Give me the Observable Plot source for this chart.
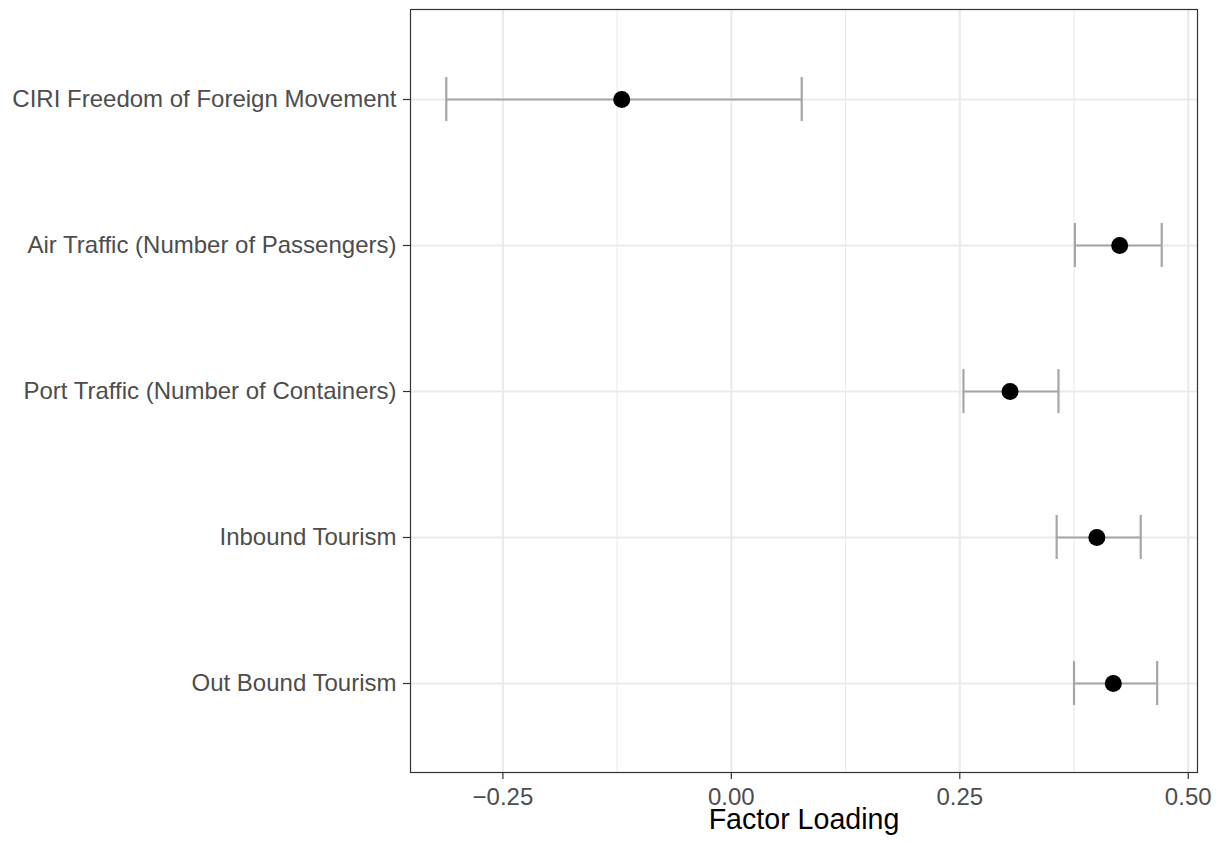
<!DOCTYPE html>
<html>
<head>
<meta charset="utf-8">
<script src="https://cdn.jsdelivr.net/npm/d3@7"></script>
<script src="https://cdn.jsdelivr.net/npm/@observablehq/plot@0.6"></script>
<style>
  html, body { margin: 0; padding: 0; background: #fff; }
  #chart svg { display: block; font-family: "Liberation Sans", Arial, Helvetica, sans-serif; }
</style>
</head>
<body>
<div id="chart"></div>
<script>
const variables = [
  "CIRI Freedom of Foreign Movement",
  "Air Traffic (Number of Passengers)",
  "Port Traffic (Number of Containers)",
  "Inbound Tourism",
  "Out Bound Tourism"
];
const loadings = [-0.120, 0.425, 0.305, 0.400, 0.418];
const lowers   = [-0.312, 0.376, 0.254, 0.356, 0.375];
const uppers   = [ 0.077, 0.471, 0.358, 0.448, 0.466];
const majorTicks = [-0.25, 0, 0.25, 0.5];
const minorTicks = [-0.125, 0.125, 0.375];

const data = variables.map((v, i) => ({name: v, est: loadings[i], lo: lowers[i], hi: uppers[i]}));

const lo = d3.min(lowers), hi = d3.max(uppers), pad = (hi - lo) * 0.05;

const chart = Plot.plot({
  width: 1217,
  height: 843,
  marginLeft: 410,
  marginRight: 20,
  marginTop: 9,
  marginBottom: 71,
  style: {fontFamily: '"Liberation Sans", Arial, Helvetica, sans-serif', background: "#fff"},
  x: {domain: [lo - pad, hi + pad]},
  y: {type: "band", domain: variables, paddingInner: 0.7, paddingOuter: 0.45},
  marks: [
    Plot.ruleX(minorTicks, {stroke: "#ebebeb", strokeWidth: 1.2}),
    Plot.ruleX(majorTicks, {stroke: "#ebebeb", strokeWidth: 2.2}),
    Plot.ruleY(variables, {y: d => d, stroke: "#ebebeb", strokeWidth: 2.2}),
    Plot.ruleY(data, {y: "name", x1: "lo", x2: "hi", stroke: "#a6a6a6", strokeWidth: 2.2}),
    Plot.tickX(data, {x: "lo", y: "name", stroke: "#a6a6a6", strokeWidth: 2.2}),
    Plot.tickX(data, {x: "hi", y: "name", stroke: "#a6a6a6", strokeWidth: 2.2}),
    Plot.dot(data, {x: "est", y: "name", r: 8.5, fill: "black", stroke: "none"}),
    Plot.frame({stroke: "#333333", strokeWidth: 1.2}),
    Plot.axisX(majorTicks, {
      tickSize: 7, tickPadding: 8, fontSize: 24, color: "#4d4d4d", stroke: "#333333",
      tickFormat: d3.format(".2f"), label: null
    }),
    Plot.axisY({
      tickSize: 7, tickPadding: 7, fontSize: 24, color: "#4d4d4d", stroke: "#333333", label: null
    }),
    Plot.text(["Factor Loading"], {frameAnchor: "bottom", dy: 56.5, fontSize: 28.6, fill: "black"})
  ]
});
chart.querySelectorAll('[aria-label="x-axis tick"] path, [aria-label="y-axis tick"] path').forEach(p => {
  p.setAttribute("stroke", "#333333");
  p.setAttribute("stroke-width", "1.2");
});
document.getElementById("chart").append(chart);
</script>
</body>
</html>
